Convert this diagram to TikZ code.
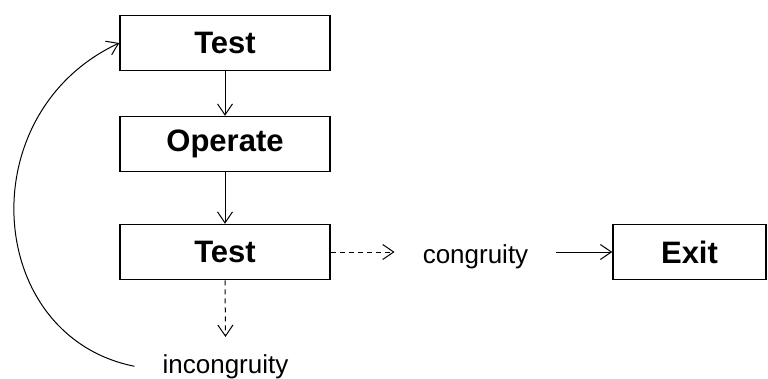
\documentclass[tikz,border=0pt]{standalone}
\usepackage{fontspec}
\setmainfont{Liberation Sans}
\usetikzlibrary{arrows.meta}

\begin{document}
\begin{tikzpicture}[x=1pt, y=-1pt,
    >={Straight Barb[length=11pt,width=15pt]},
    block/.style={draw, line width=1.5pt, minimum width=210pt, minimum height=55pt,
                  font=\fontsize{31}{36}\selectfont\bfseries},
    lbl/.style={inner xsep=28pt, inner ysep=17pt, anchor=base,
                font=\fontsize{26}{30}\selectfont},
    flow/.style={->, line width=1pt},
    maybe/.style={->, line width=1pt, dash pattern=on 5pt off 4pt}]
\useasboundingbox (0,0) rectangle (768,378);

% Boxes
\node[block] (test1) at (225,43) {Test};
\node[block] (oper) at (225,144) {Operate};
\node[block] (test2) at (225,252) {Test};
\node[block, minimum width=153pt] (exit) at (689.5,252) {Exit};

% Outcomes
\node[lbl] (congr) at (475.5,263) {congruity};
\node[lbl] (incong) at (225.5,373) {incongruity};

% Main flow
\draw[flow] (test1) -- (oper);
\draw[flow] (oper) -- (test2);
\draw[maybe] (test2.east) -- (test2.east -| congr.west);
\draw[flow] (congr.east |- exit.west) -- (exit.west);
\draw[maybe] (test2.south) -- (incong.north);

% Feedback loop
\draw[flow] (incong.west) .. controls +(-150,-30) and +(-150,70) .. (test1.west);

\end{tikzpicture}
\end{document}
